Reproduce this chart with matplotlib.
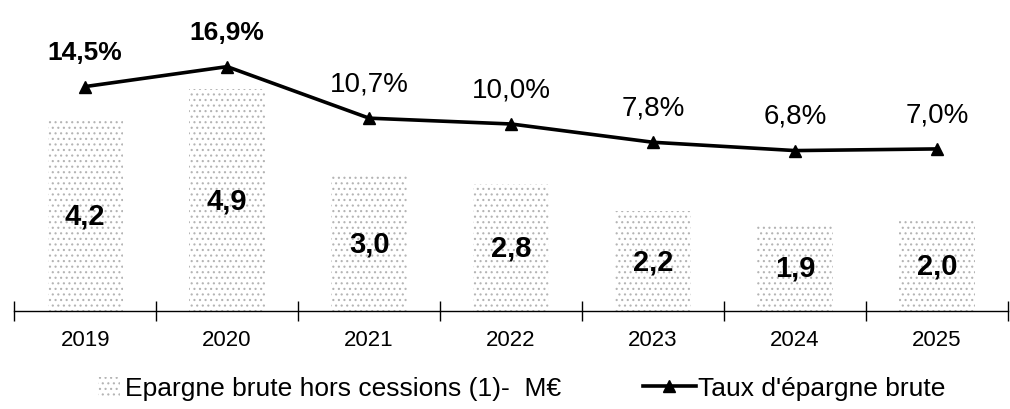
import numpy as np
import matplotlib
matplotlib.use("Agg")
import matplotlib.pyplot as plt
from matplotlib.patches import Patch
from matplotlib.lines import Line2D

plt.rcParams['font.family'] = ['Liberation Sans', 'DejaVu Sans']
plt.rcParams['hatch.linewidth'] = 0.8

years = ['2019', '2020', '2021', '2022', '2023', '2024', '2025']
epargne = [4.2, 4.9, 3.0, 2.8, 2.2, 1.9, 2.0]
taux = [14.5, 16.9, 10.7, 10.0, 7.8, 6.8, 7.0]
epargne_lbl = ['4,2', '4,9', '3,0', '2,8', '2,2', '1,9', '2,0']
taux_lbl = ['14,5%', '16,9%', '10,7%', '10,0%', '7,8%', '6,8%', '7,0%']

fig = plt.figure(figsize=(10.1, 4.1), dpi=100)
ax1 = fig.add_axes([0.014, 0.239, 0.984, 0.74])
x = np.arange(len(years))

ax1.bar(x, epargne, width=0.53, color='white', edgecolor='#b4b4b4',
        linewidth=0, hatch='...')
for xi, v, t in zip(x, epargne, epargne_lbl):
    ax1.text(xi, v / 2, t, ha='center', va='center', fontsize=21,
             fontweight='bold')
ax1.set_xlim(-0.5, 6.5)
ax1.set_ylim(0, 6.7)

for s in ['top', 'left', 'right']:
    ax1.spines[s].set_visible(False)
ax1.spines['bottom'].set_linewidth(1.0)
ax1.set_yticks([])
ax1.set_xticks(x)
ax1.set_xticklabels(years, fontsize=16)
ax1.tick_params(axis='x', which='major', length=0, pad=13)
ax1.set_xticks(np.arange(-0.5, 7, 1), minor=True)
ax1.tick_params(axis='x', which='minor', length=14, direction='inout', width=1)

ax2 = ax1.twinx()
ax2.plot(x, taux, color='black', linewidth=2.6, marker='^', markersize=9)
ax2.set_ylim(-12.5, 24.0)
ax2.axis('off')
for i, (xi, v, t) in enumerate(zip(x, taux, taux_lbl)):
    ax2.text(xi, v + 4.2, t, ha='center', va='center',
             fontsize=19 if i < 2 else 20,
             fontweight='bold' if i < 2 else 'normal')

h1 = Patch(facecolor='white', edgecolor='#b4b4b4', linewidth=0, hatch='...')
h2 = Line2D([], [], color='black', linewidth=2.6, marker='^', markersize=8)
fig.legend([h1], ['Epargne brute hors cessions (1)-  M€'], loc='center left',
           bbox_to_anchor=(0.074, 0.05), frameon=False, fontsize=19,
           handlelength=0.8, handletextpad=0.2)
fig.legend([h2], ["Taux d'épargne brute"], loc='center left',
           bbox_to_anchor=(0.613, 0.05), frameon=False, fontsize=19,
           handlelength=2.0, handletextpad=0.1)

fig.savefig('out.png', dpi=100)
